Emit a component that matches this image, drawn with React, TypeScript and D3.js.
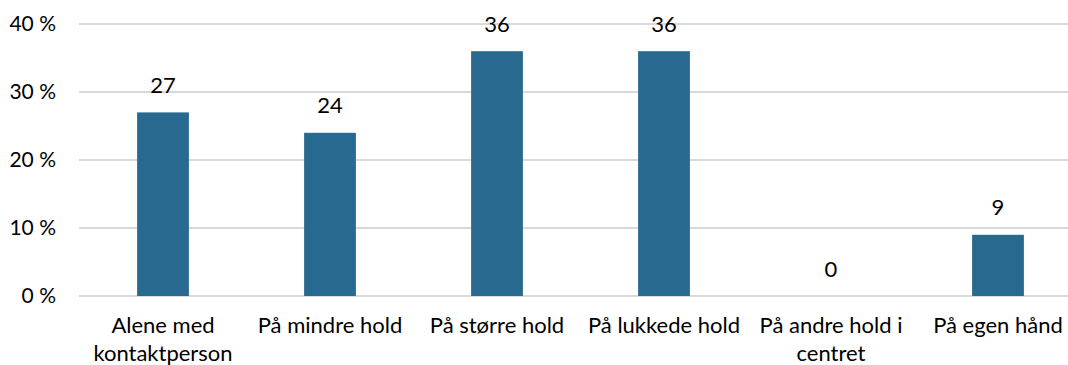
import React from "react";
import * as d3 from "d3";

const categories = [
  "Alene med\nkontaktperson",
  "På mindre hold",
  "På større hold",
  "På lukkede hold",
  "På andre hold i\ncentret",
  "På egen hånd",
];
const values = [27, 24, 36, 36, 0, 9];
const yTicks = [0, 10, 20, 30, 40];

const W = 1068;
const H = 365;
const FONT = "Lato, 'Open Sans', sans-serif";

export default function App() {
  const x = d3
    .scaleBand<string>()
    .domain(categories)
    .range([79.5, 1081.5])
    .paddingInner(0.69)
    .paddingOuter(0.345);
  const y = d3.scaleLinear().domain([0, 40]).range([296, 24]);

  return (
    <svg
      width={W}
      height={H}
      style={{ position: "absolute", left: 0, top: 0, background: "#fff" }}
      fontFamily={FONT}
    >
      {yTicks.map((t) => (
        <g key={t}>
          <line x1={79} x2={W} y1={y(t)} y2={y(t)} stroke="#d9d9d9" strokeWidth={2} />
          <text x={56} y={y(t)} dy="0.35em" textAnchor="end" fontSize={21} fill="#000">
            {`${t} %`}
          </text>
        </g>
      ))}
      {categories.map((c, i) => {
        const bx = x(c)!;
        const cx = bx + x.bandwidth() / 2;
        const v = values[i];
        return (
          <g key={c}>
            <rect x={bx} y={y(v)} width={x.bandwidth()} height={y(0) - y(v)} fill="#27698f" />
            <text x={cx} y={y(v) - 19.5} textAnchor="middle" fontSize={22} fill="#000">
              {v}
            </text>
            {c.split("\n").map((line, j) => (
              <text key={j} x={cx} y={333 + j * 28} textAnchor="middle" fontSize={22} fill="#000">
                {line}
              </text>
            ))}
          </g>
        );
      })}
    </svg>
  );
}
